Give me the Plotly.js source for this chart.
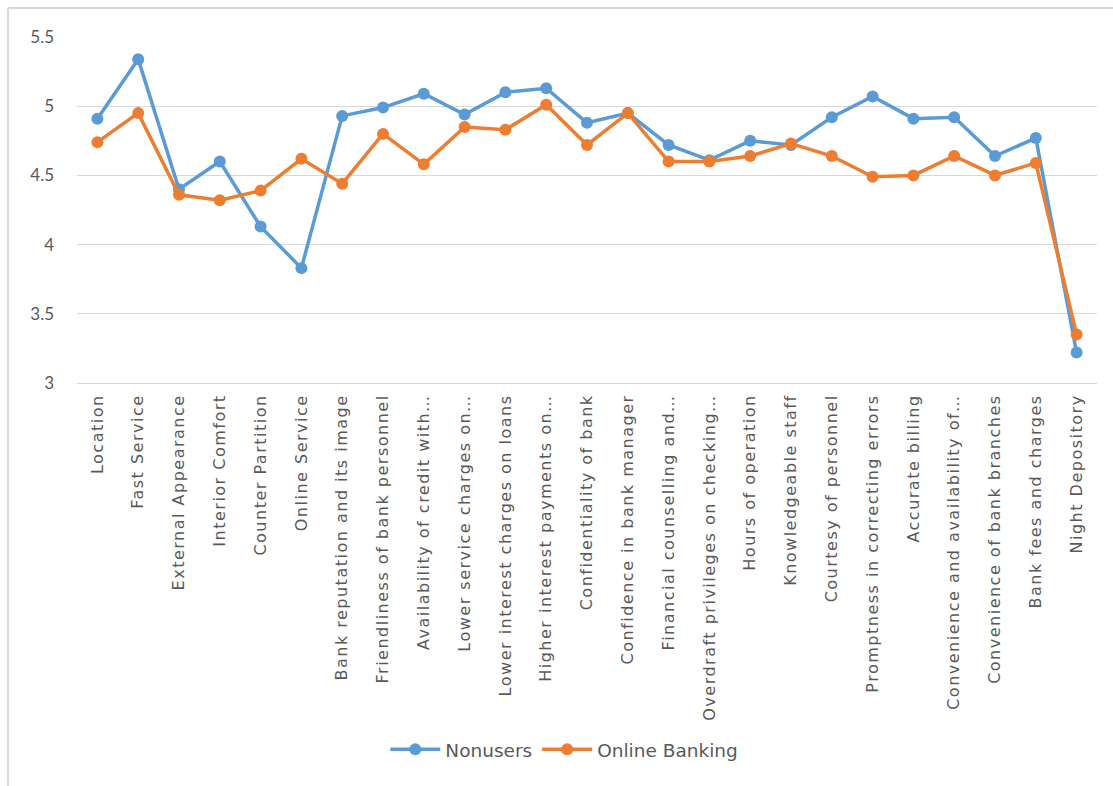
<!DOCTYPE html>
<html>
<head>
<meta charset="utf-8">
<script src="https://cdn.plot.ly/plotly-3.0.1.min.js"></script>
<style>
html,body{margin:0;padding:0;background:#fff;}
#chart{width:1113px;height:786px;}
#chart .xtick text{letter-spacing:1.5px;}
</style>
</head>
<body>
<div id="chart"></div>
<script>
var categories = [
  "Location", "Fast Service", "External Appearance", "Interior Comfort", "Counter Partition",
  "Online Service", "Bank reputation and its image", "Friendliness of bank personnel",
  "Availability of credit with…", "Lower service charges on…", "Lower interest charges on loans",
  "Higher interest payments on…", "Confidentiality of bank", "Confidence in bank manager",
  "Financial counselling and…", "Overdraft privileges on checking…", "Hours of operation",
  "Knowledgeable staff", "Courtesy of personnel", "Promptness in correcting errors",
  "Accurate billing", "Convenience and availability of…", "Convenience of bank branches",
  "Bank fees and charges", "Night Depository"
];
var nonusers = [4.91, 5.34, 4.40, 4.60, 4.13, 3.83, 4.93, 4.99, 5.09, 4.94, 5.10, 5.13, 4.88, 4.95,
  4.72, 4.61, 4.75, 4.72, 4.92, 5.07, 4.91, 4.92, 4.64, 4.77, 3.22];
var onlineBanking = [4.74, 4.95, 4.36, 4.32, 4.39, 4.62, 4.44, 4.80, 4.58, 4.85, 4.83, 5.01, 4.72, 4.95,
  4.60, 4.60, 4.64, 4.73, 4.64, 4.49, 4.50, 4.64, 4.50, 4.59, 3.35];
var yTicks = [3, 3.5, 4, 4.5, 5, 5.5];
var yTickText = ["3", "3.5", "4", "4.5", "5", "5.5"];

var font = "Lato, 'Open Sans', sans-serif";
var wideFont = "'DejaVu Sans', 'Open Sans', sans-serif";
var traces = [
  {x: categories, y: nonusers, name: "Nonusers", type: "scatter", mode: "lines+markers",
   line: {color: "#5B9BD5", width: 3.5}, marker: {color: "#5B9BD5", size: 12}},
  {x: categories, y: onlineBanking, name: "Online Banking", type: "scatter", mode: "lines+markers",
   line: {color: "#ED7D31", width: 3.5}, marker: {color: "#ED7D31", size: 12}}
];
var layout = {
  width: 1113, height: 786,
  margin: {l: 77, r: 16, t: 37, b: 403},
  paper_bgcolor: "#fff", plot_bgcolor: "#fff",
  font: {family: font, color: "#595959", size: 15},
  xaxis: {type: "category", tickangle: -90, showgrid: false, showline: true, linecolor: "#D9D9D9",
          linewidth: 1, ticks: "", ticklabelstandoff: 4, tickfont: {size: 16, color: "#595959", family: wideFont},
          range: [-0.5, categories.length - 0.5], fixedrange: true},
  yaxis: {range: [3, 5.5], tickvals: yTicks, ticktext: yTickText, showgrid: true, gridcolor: "#D9D9D9",
          gridwidth: 1, zeroline: false, showline: false, ticks: "", ticklabelstandoff: 22,
          tickfont: {size: 17, color: "#595959", family: font}, fixedrange: true},
  showlegend: true,
  legend: {orientation: "h", xref: "container", yref: "container", x: 0.507, y: 0.046,
           xanchor: "center", yanchor: "middle", font: {size: 18.5, color: "#595959", family: wideFont},
           itemwidth: 50, tracegroupgap: 0},
  shapes: [
    {type: "line", xref: "paper", yref: "paper", x0: -0.0676, x1: 1.02, y0: 1.0838, y1: 1.0838,
     line: {color: "#D9D9D9", width: 2}},
    {type: "line", xref: "paper", yref: "paper", x0: -0.0676, x1: -0.0676, y0: 1.0838, y1: -1.17,
     line: {color: "#D9D9D9", width: 2}}
  ]
};
Plotly.newPlot("chart", traces, layout, {displayModeBar: false, staticPlot: true});
</script>
</body>
</html>
